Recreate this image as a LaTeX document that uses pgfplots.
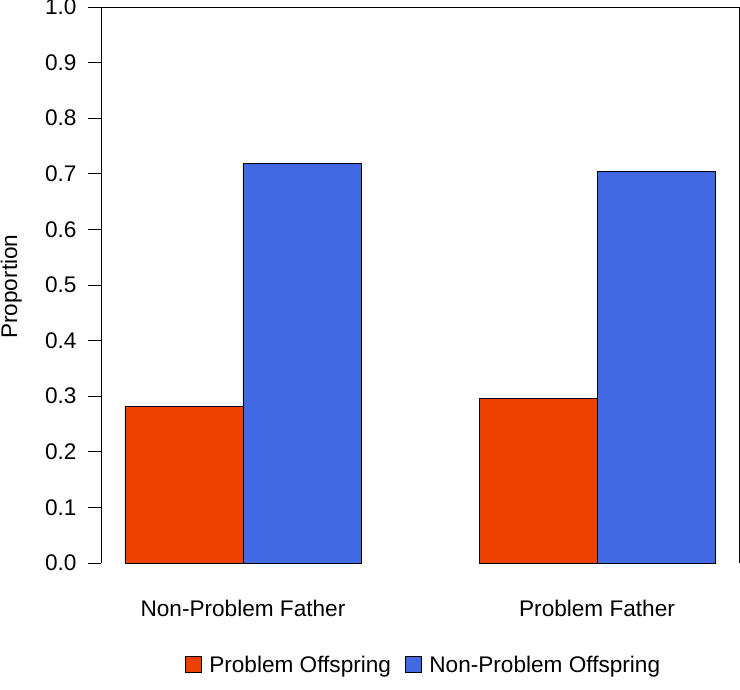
\documentclass[border=0pt]{standalone}
\usepackage{pgfplots}
\pgfplotsset{compat=1.18}
\usepackage{fontspec}
\setmainfont{Liberation Sans}
\definecolor{redbar}{RGB}{238,64,0}
\definecolor{bluebar}{RGB}{65,105,225}
\begin{document}
\begin{tikzpicture}[x=1pt,y=1pt]
\useasboundingbox (0,0) rectangle (740,690);
\begin{axis}[
  at={(101pt,127pt)}, anchor=south west,
  scale only axis, width=638pt, height=556pt,
  font=\fontsize{22.6}{27}\selectfont,
  /pgf/number format/assume math mode=true,
  /pgf/number format/fixed,
  /pgf/number format/fixed zerofill,
  /pgf/number format/precision=1,
  ybar=0pt, bar width=118pt,
  xmin=0.599, xmax=2.401,
  ymin=0, ymax=1,
  xtick={1,2}, xticklabels={Non-Problem Father, Problem Father},
  x tick style={draw=none},
  xticklabel style={yshift=-21pt},
  ytick={0,0.1,0.2,0.3,0.4,0.5,0.6,0.7,0.8,0.9,1.0},
  yticklabel style={xshift=-8pt},
  y tick style={black, line width=0.8pt},
  tick align=outside, major tick length=13pt,
  ytick pos=left,
  axis line style={draw=none},
  ylabel={Proportion},
  every axis y label/.style={at={(axis description cs:0,0.497)}, xshift=-79pt, rotate=90, anchor=south, inner sep=0pt},
  legend columns=2,
  legend style={at={(axis description cs:0.5055,-0.183)}, anchor=center, draw=none, fill=none,
    /tikz/every even column/.append style={column sep=12pt}},
  legend image code/.code={\draw[#1,draw=black,line width=0.8pt] (0pt,-8pt) rectangle (16pt,8pt); \path[draw=none,fill=none] (16pt,0pt) -- (22pt,0pt);},
  clip=false,
]
\addplot[fill=redbar, draw=black, line width=0.8pt] coordinates {(1,0.282) (2,0.296)};
\addplot[fill=bluebar, draw=black, line width=0.8pt] coordinates {(1,0.718) (2,0.704)};
\legend{Problem Offspring, Non-Problem Offspring}
\draw[black, line width=0.8pt] (rel axis cs:0,0) -- (rel axis cs:0,1) -- (rel axis cs:1,1) -- (rel axis cs:1,0);
\end{axis}
\end{tikzpicture}
\end{document}
